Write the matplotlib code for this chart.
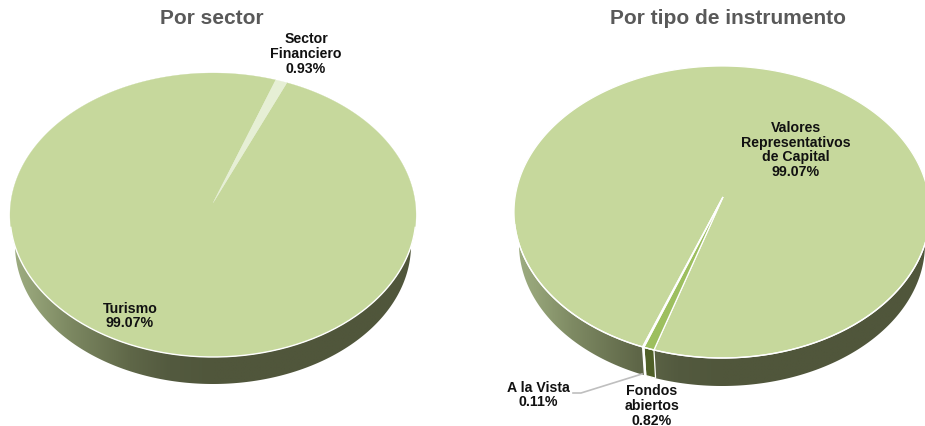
#!/usr/bin/env python
# -*- coding: utf-8 -*-
import numpy as np
import matplotlib
matplotlib.use('Agg')
import matplotlib.pyplot as plt
from matplotlib.colors import LinearSegmentedColormap
from matplotlib.patches import Polygon

# datos
sector_names = ['Sector\nFinanciero', 'Turismo']
sector_values = [0.93, 99.07]
instr_names = ['Fondos\nabiertos', 'A la Vista', 'Valores\nRepresentativos\nde Capital']
instr_values = [0.82, 0.11, 99.07]

plt.rcParams['font.family'] = ['Liberation Sans', 'DejaVu Sans']

W, H = 925, 426
fig = plt.figure(figsize=(W / 100, H / 100), dpi=100)
ax = fig.add_axes([0, 0, 1, 1])

wall = LinearSegmentedColormap.from_list('wall', [(0, '#9cab80'), (0.04, '#95a378'), (0.13, '#7e8a63'),
                                                  (0.29, '#5f6748'), (0.39, '#535a3f'), (0.5, '#50563b'),
                                                  (1, '#50563b')])


def ell(t, cx, cy, rx, ry):
    r = np.radians(t)
    return cx + rx * np.cos(r), cy - ry * np.sin(r)


def pie3d(values, start, colors, wall_colors, top, bottom, apex, edge_lw):
    # los sectores van en sentido horario desde start
    cx, cy, rx, ry = top
    bx, by, brx, bry = bottom

    # pared lateral con degradado horizontal
    t0 = np.degrees(np.arccos(brx / rx))
    t = np.linspace(180 + t0, 360 - t0, 241)
    x1, y1 = ell(t, cx, cy, rx, ry)
    x2, y2 = ell(np.linspace(360, 180, 241), bx, by, brx, bry)
    left, right = x2.min(), x2.max()
    grad = np.linspace(0, 1, 256).reshape(1, -1)
    img = ax.imshow(grad, cmap=wall, extent=(left, right, by + bry + 2, cy - 2),
                    aspect='auto', zorder=1, interpolation='bilinear')
    img.set_clip_path(Polygon(np.c_[np.r_[x1, x2], np.r_[y1, y2]], transform=ax.transData))

    a = start
    slices = []
    for v, c, wc in zip(values, colors, wall_colors):
        b = a - v * 3.6
        slices.append((a, b, c, wc))
        a = b

    # el sector grande primero para que no tape a los pequenos
    for a, b, c, wc in sorted(slices, key=lambda s: s[1] - s[0]):
        t = np.linspace(a, b, max(int(abs(b - a)), 2) + 1)
        x, y = ell(t, cx, cy, rx, ry)
        ax.fill(np.r_[apex[0], x], np.r_[apex[1], y], facecolor=c, edgecolor='white' if edge_lw else c,
                lw=edge_lw if edge_lw else 0.2, zorder=3)
        # tramo de la pared para los sectores pequenos
        if wc is not None:
            tt = np.array([a, b])
            xa, ya = ell(tt, cx, cy, rx, ry)
            xb, yb = ell(tt[::-1], bx, by, brx, bry)
            ax.fill(np.r_[xa, xb], np.r_[ya, yb], facecolor=wc, edgecolor='white', lw=0.9, zorder=2)

    # borde claro inferior
    t = np.linspace(185, 355, 200)
    x, y = ell(t, cx, cy, rx, ry)
    ax.plot(x, y, color='white', lw=1.0, zorder=4)


pie3d(sector_values, 72.0, ['#e6efd5', '#c6d89c'], [None, None],
      (213, 215, 203, 142), (213, 245, 198, 139), (213, 203), 0)
pie3d(instr_values, 250.9, ['#9dbf5f', '#e6efd5', '#c6d89c'], ['#4f5f28', '#e6efd5', None],
      (722, 212, 208, 146), (722, 244, 203, 142), (723, 197), 0.9)

ax.set_xlim(0, W)
ax.set_ylim(H, 0)
ax.axis('off')

title_kw = dict(fontsize=15, fontweight='bold', color='#595959', ha='center', va='center', zorder=6)
ax.text(212, 19, 'Por sector', **title_kw)
ax.text(728, 18, 'Por tipo de instrumento', **title_kw)


def label(x, y, name, value):
    ax.text(x, y, '%s\n%.2f%%' % (name, value), fontsize=10.2, fontweight='bold', color='#111111',
            ha='center', va='center', linespacing=1.06, zorder=6)


label(306, 54, sector_names[0], sector_values[0])
label(130, 316, sector_names[1], sector_values[1])
label(796, 150, instr_names[2], instr_values[2])
label(538, 395, instr_names[1], instr_values[1])
label(652, 406, instr_names[0], instr_values[0])

ax.plot([573, 581, 642], [393, 393, 374], color='#bfbfbf', lw=1.2, zorder=5)

fig.savefig('out.png', dpi=100)
